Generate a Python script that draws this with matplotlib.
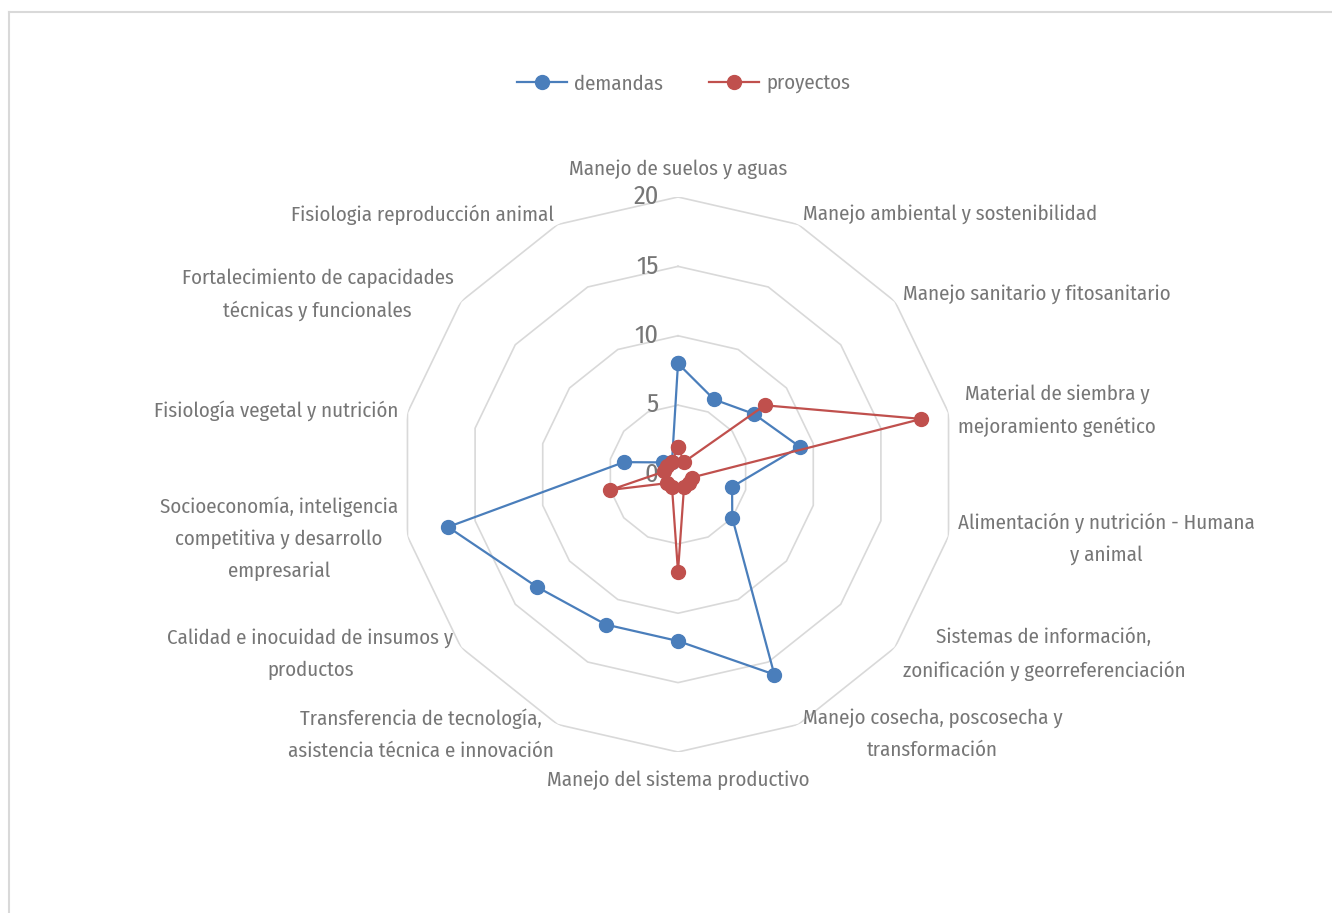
import numpy as np
import matplotlib.pyplot as plt
from matplotlib.lines import Line2D

# categories, clockwise from the top
categorias = [
    'Manejo de suelos y aguas',
    'Manejo ambiental y sostenibilidad',
    'Manejo sanitario y fitosanitario',
    'Material de siembra y\nmejoramiento genético',
    'Alimentación y nutrición - Humana\ny animal',
    'Sistemas de información,\nzonificación y georreferenciación',
    'Manejo cosecha, poscosecha y\ntransformación',
    'Manejo del sistema productivo',
    'Transferencia de tecnología,\nasistencia técnica e innovación',
    'Calidad e inocuidad de insumos y\nproductos',
    'Socioeconomía, inteligencia\ncompetitiva y desarrollo\nempresarial',
    'Fisiología vegetal y nutrición',
    'Fortalecimiento de capacidades\ntécnicas y funcionales',
    'Fisiologia reproducción animal',
]
demandas = [8, 6, 7, 9, 4, 5, 16, 12, 12, 13, 17, 4, 1.4, 1]
proyectos = [2, 1, 8, 18, 1, 1, 1, 7, 1, 1, 5, 1, 1, 1]
niveles = [0, 5, 10, 15, 20]

azul = '#4A7EBB'
rojo = '#C0504D'
gris_txt = '#767676'
gris_red = '#D9D9D9'

plt.rcParams['font.family'] = ['Fira Sans Condensed', 'PT Sans Narrow', 'DejaVu Sans']

W, H = 1332, 913
fig = plt.figure(figsize=(W / 100, H / 100), dpi=100)

# chart border (only top and left edges visible in the reference)
fig.add_artist(Line2D([8.5 / W, 8.5 / W], [0, 1 - 12 / H], color=gris_red, lw=1.5))
fig.add_artist(Line2D([8.5 / W, 1], [1 - 12 / H, 1 - 12 / H], color=gris_red, lw=1.5))

cx, cy, R = 678, 474.5, 277.5
ax = fig.add_axes([(cx - R) / W, 1 - (cy + R) / H, 2 * R / W, 2 * R / H], polar=True)
ax.set_theta_zero_location('N')
ax.set_theta_direction(-1)
ax.set_ylim(0, 20)
ax.grid(False)
ax.spines['polar'].set_visible(False)
ax.set_xticks([])
ax.set_yticks([])
ax.patch.set_alpha(0)

n = len(categorias)
ang = np.linspace(0, 2 * np.pi, n, endpoint=False)
ang_c = np.append(ang, ang[0])

# polygon gridlines
for r in niveles[1:]:
    ax.plot(ang_c, [r] * (n + 1), color=gris_red, lw=1.2, zorder=1)

for r in niveles:
    ax.annotate(str(r), xy=(0, r), xytext=(-14, 0), textcoords='offset points',
                ha='right', va='center', fontsize=19, color=gris_txt)

d = np.append(demandas, demandas[0])
p = np.append(proyectos, proyectos[0])
ax.plot(ang_c, d, color=azul, lw=1.6, marker='o', ms=10, label='demandas', zorder=3)
ax.plot(ang_c, p, color=rojo, lw=1.6, marker='o', ms=10, label='proyectos', zorder=4)

for a, lab in zip(ang, categorias):
    s, c = np.sin(a), np.cos(a)
    off = (7 * s, 8 * c)
    if abs(s) < 1e-6:
        ha = 'center'
        off = (0, 13 * np.sign(c))
    elif s > 0:
        ha = 'left'
    else:
        ha = 'right'
    if c > 0.99:
        va = 'bottom'
    elif c < -0.99:
        va = 'top'
    else:
        va = 'center'
    ax.annotate(lab, xy=(a, 20), xytext=off, textcoords='offset points',
                ha=ha, va=va, multialignment='center', fontsize=15, color=gris_txt,
                linespacing=1.8, annotation_clip=False)

fig.legend(loc='center', bbox_to_anchor=(683.5 / W, 1 - 84 / H), ncol=2, frameon=False,
           fontsize=15, labelcolor=gris_txt, handlelength=2.4, columnspacing=2.2,
           handletextpad=0.35)

fig.savefig('out.png', dpi=100)
